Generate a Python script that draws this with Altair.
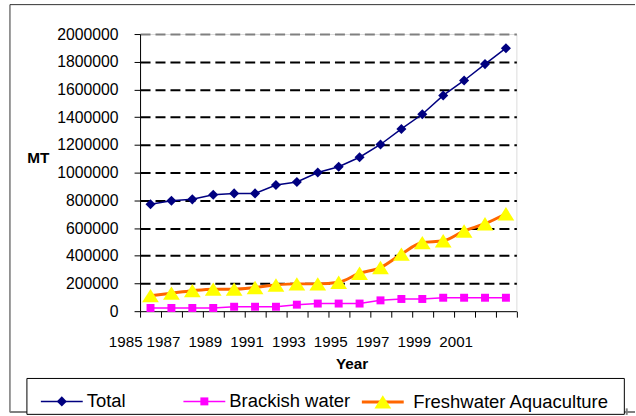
import altair as alt
import pandas as pd

# ---- data -------------------------------------------------------------
YEARS = list(range(1986, 2004))
TOTAL = [771000, 797000, 807000, 840000, 850000, 850000, 910000, 932000, 1001000,
         1042000, 1111000, 1203000, 1315000, 1421000, 1557000, 1665000, 1783000, 1898000]
BRACKISH = [23000, 23000, 23000, 23000, 32000, 32000, 32000, 47000, 55000,
            55000, 55000, 78000, 88000, 88000, 97000, 97000, 97000, 97000]
FRESHWATER = [112000, 130000, 148000, 159000, 159000, 171000, 189000, 197000, 197000,
              209000, 274000, 315000, 412000, 495000, 508000, 579000, 631000, 703000]
SERIES = ["Total", "Brackish water", "Freshwater Aquaculture"]

# category-axis labels, one per tick (ticks sit between the years)
X_TICK_LABELS = ["1985", "1987", "", "1989", "", "1991", "", "1993", "", "1995",
                 "", "1997", "", "1999", "", "2001", "", "", ""]
Y_TICKS = [0, 200000, 400000, 600000, 800000, 1000000, 1200000, 1400000,
           1600000, 1800000, 2000000]

# ---- styling ----------------------------------------------------------
FONT = "Liberation Sans"
LINE_COLORS = ["#000080", "#FF00FF", "#FF6600"]
MARKER_COLORS = ["#000080", "#FF00FF", "#FFFF00"]
LINE_WIDTHS = [1.5, 1.5, 3]
SMOOTH = [False, False, True]
SYM = 1764  # symbol area -> 42 px box for legend lines and markers
# marker outlines in Vega's -1..1 custom-symbol box
MARKER_PATHS = [
    "M0,-0.24L0.24,0L0,0.24L-0.24,0Z",
    "M-0.19,-0.19L0.19,-0.19L0.19,0.19L-0.19,0.19Z",
    "M0,-0.32L0.4,0.32L-0.4,0.32Z",
]
# one legend entry per series, placed along the legend box
LEGEND_X = [-100.5, 42.5, 221.0]
LEGEND_Y = 346.5
LEGEND_LABEL_OFFSET = [3, 3, 8]

rows = []
for name, vals in zip(SERIES, [TOTAL, BRACKISH, FRESHWATER]):
    for yr, v in zip(YEARS, vals):
        rows.append({"year": yr, "series": name, "value": v})
df = pd.DataFrame(rows)

tick_pos = [YEARS[0] - 0.5 + i for i in range(len(YEARS) + 1)]
label_expr = ("[" + ",".join(f"'{t}'" for t in X_TICK_LABELS) + "]"
              + f"[round(datum.value - {tick_pos[0]})]")

x_enc = alt.X(
    "year:Q",
    scale=alt.Scale(domain=[tick_pos[0], tick_pos[-1]], nice=False, zero=False),
    axis=alt.Axis(
        values=tick_pos, labelExpr=label_expr, title="Year", grid=False,
        tickSize=6, tickColor="black", domainColor="black",
        labelFont=FONT, labelFontSize=15.2, labelColor="black",
        labelPadding=17, labelOffset=2, labelFlush=False, labelOverlap=False,
        labelBound=False,
        labelAlign={"condition": {"test": f"datum.value < {tick_pos[0] + 0.5}",
                                  "value": "right"}, "value": "center"},
        titleFont=FONT, titleFontSize=15.3, titleFontWeight="bold", titleColor="black",
        titleX=212.2, titleY=57.8, titleBaseline="alphabetic", titleAlign="center",
    ),
)
y_enc = alt.Y(
    "value:Q",
    scale=alt.Scale(domain=[0, 2000000], nice=False),
    axis=alt.Axis(
        values=Y_TICKS, format="d", title="MT", titleAngle=0,
        tickSize=6, tickColor="black", domainColor="black",
        labelFont=FONT, labelFontSize=15.8, labelColor="black", labelPadding=16,
        grid=True, gridDash=[10, 5], gridWidth=2,
        gridColor={"condition": {"test": "datum.value >= 2000000", "value": "#808080"},
                   "value": "black"},
        gridOpacity={"condition": {"test": "datum.value <= 0", "value": 0}, "value": 1},
        titleFont=FONT, titleFontSize=15.4, titleFontWeight="bold", titleColor="black",
        titleX=-102.5, titleY=128.4, titleBaseline="alphabetic", titleAlign="center",
    ),
)

base = alt.Chart(df)
line_layers, marker_layers = [], []
for i, name in enumerate(SERIES):
    common = dict(orient="none", legendX=LEGEND_X[i], legendY=LEGEND_Y, title=None,
                  padding=0, symbolSize=SYM, symbolStrokeWidth=LINE_WIDTHS[i],
                  symbolOpacity=1, labelFont=FONT, labelFontSize=18.5,
                  labelOffset=LEGEND_LABEL_OFFSET[i], labelLimit=400)
    line_legend = alt.Legend(symbolType="stroke", labelColor="black", zindex=1, **common)
    marker_legend = alt.Legend(symbolStrokeColor="transparent", labelExpr="''",
                               zindex=2, **common)

    line_kw = {"strokeWidth": LINE_WIDTHS[i]}
    if SMOOTH[i]:
        line_kw["interpolate"] = "monotone"
    one_series = base.transform_filter(alt.FieldEqualPredicate(field="series", equal=name))
    line_layers.append(one_series.mark_line(**line_kw).encode(
        x=x_enc, y=y_enc,
        color=alt.Color("series:N", scale=alt.Scale(domain=[name], range=[LINE_COLORS[i]]),
                        legend=line_legend),
    ))
    marker_layers.append(one_series.mark_point(
        filled=True, size=SYM, opacity=1, strokeWidth=0
    ).encode(
        x=x_enc, y=y_enc,
        fill=alt.Fill("series:N", scale=alt.Scale(domain=[name], range=[MARKER_COLORS[i]]),
                      legend=marker_legend),
        shape=alt.Shape("series:N", scale=alt.Scale(domain=[name], range=[MARKER_PATHS[i]]),
                        legend=marker_legend),
    ))

# chart frame and legend box
one = alt.Data(values=[{"k": 0}])
frame_top = alt.Chart(one).mark_rule(color="#333333", strokeWidth=1).encode(
    x=alt.value(-130.5), x2=alt.value(496.5), y=alt.value(-29.5))
frame_left = alt.Chart(one).mark_rule(color="#333333", strokeWidth=1).encode(
    x=alt.value(-130.5), y=alt.value(-29.5), y2=alt.value(379.5))
frame_bottom = alt.Chart(one).mark_rule(color="#808080", strokeWidth=2).encode(
    x=alt.value(-130.5), x2=alt.value(496.5), y=alt.value(379.2))
legend_shadow = alt.Chart(one).mark_rule(color="#808080", strokeWidth=2).encode(
    x=alt.value(488.2), y=alt.value(375.5), y2=alt.value(382))
legend_box = alt.Chart(one).mark_rect(fill="white", stroke="black", strokeWidth=1).encode(
    x=alt.value(-113.5), x2=alt.value(485.8), y=alt.value(345.5), y2=alt.value(381.5))

chart = alt.layer(
    frame_top, frame_left, frame_bottom, legend_shadow, legend_box,
    *line_layers, *marker_layers,
).resolve_scale(
    color="independent", fill="independent", shape="independent"
).properties(
    width=377.5, height=278,
    padding={"left": 8.5, "top": 3.5, "right": 0, "bottom": 0},
    autosize=alt.AutoSizeParams(type="pad"),
    background="white",
).configure_view(
    stroke="#808080", strokeDash=[2, 3], strokeWidth=2
).configure(font=FONT)

chart.save("out.html", embed_options={"renderer": "svg", "actions": False})
